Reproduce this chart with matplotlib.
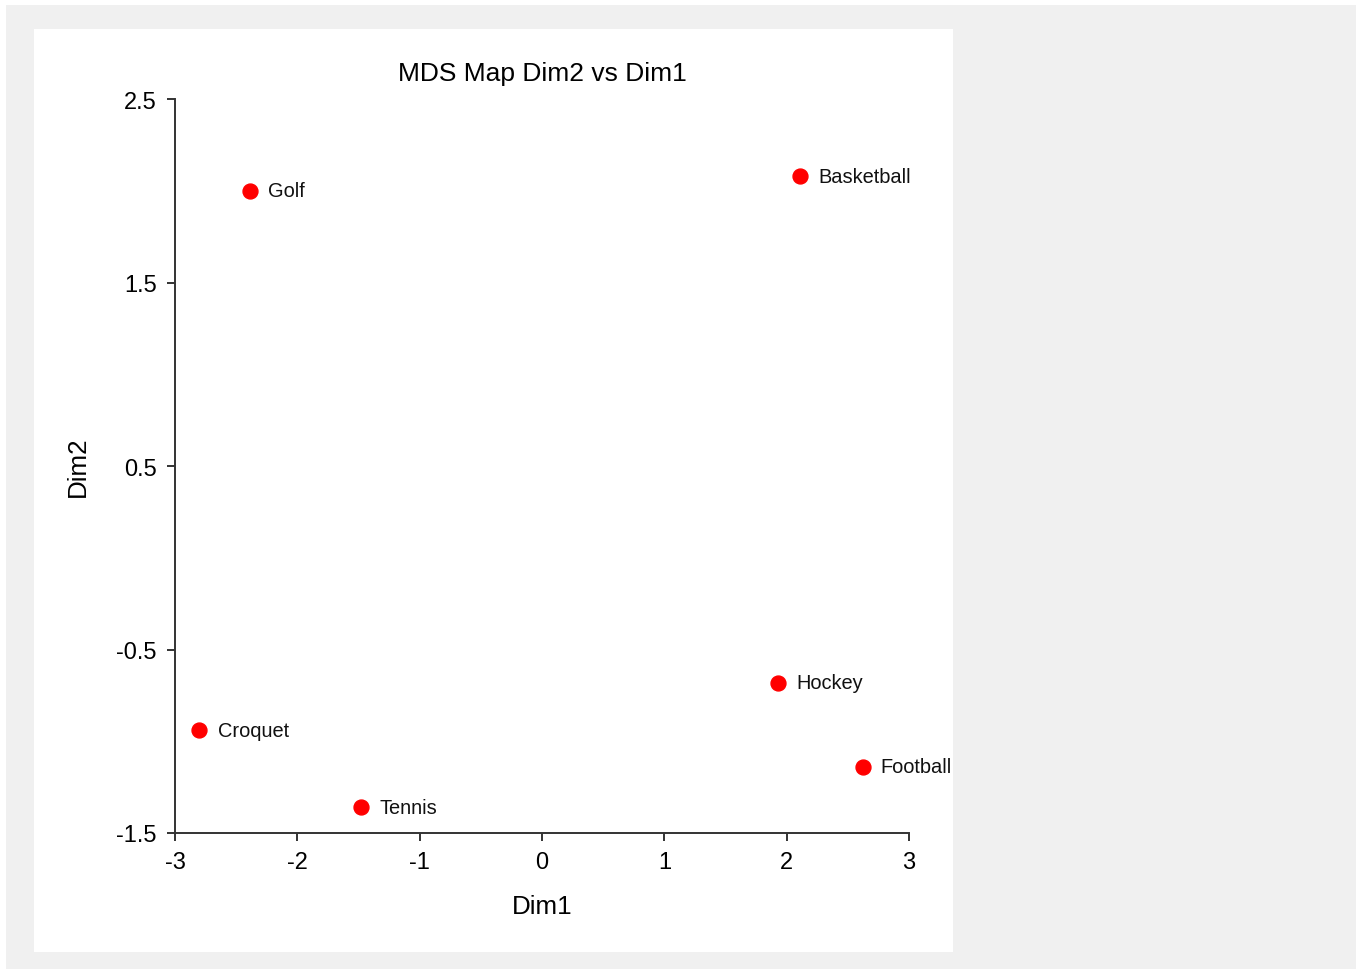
import matplotlib
matplotlib.use("Agg")
import matplotlib.pyplot as plt
from matplotlib.patches import Rectangle

## data
sports = ["Golf", "Basketball", "Hockey", "Croquet", "Tennis", "Football"]
dim1 = [-2.39, 2.11, 1.93, -2.80, -1.48, 2.62]
dim2 = [2.00, 2.08, -0.68, -0.94, -1.36, -1.14]

W, H = 1356, 970
fig = plt.figure(figsize=(W / 100, H / 100), dpi=100, facecolor="white")
plt.rcParams["font.family"] = ["Liberation Sans", "DejaVu Sans"]

## gray frame and white panel behind the chart
fig.patches.append(Rectangle((6 / W, 0), 1 - 6 / W, 1 - 6 / H, transform=fig.transFigure,
                             facecolor="#f0f0f0", edgecolor="none", zorder=-2))
fig.patches.append(Rectangle((34 / W, 1 - 953 / H), (953 - 34) / W, (953 - 30) / H,
                             transform=fig.transFigure, facecolor="white",
                             edgecolor="none", zorder=-1))

ax = fig.add_axes([175 / W, 1 - 834 / H, 734 / W, 734 / H])
ax.set_facecolor("none")
ax.scatter(dim1, dim2, s=115, color="#ff0000", zorder=3, clip_on=False)
for name, x, y in zip(sports, dim1, dim2):
    ax.annotate(name, (x, y), xytext=(13, 0), textcoords="offset points",
                va="center", ha="left", fontsize=14.4, color="#111111")

ax.set_xlim(-3, 3)
ax.set_ylim(-1.5, 2.5)
ax.set_xticks(range(-3, 4))
ax.set_yticks([-1.5, -0.5, 0.5, 1.5, 2.5])
ax.set_yticklabels(["-1.5", "-0.5", "0.5", "1.5", "2.5"])
ax.set_xticklabels([str(v) for v in range(-3, 4)])

for side in ["top", "right"]:
    ax.spines[side].set_visible(False)
for side in ["left", "bottom"]:
    ax.spines[side].set_linewidth(1.4)
    ax.spines[side].set_color("#333333")
ax.tick_params(direction="out", length=6, width=1.4, color="#333333",
               labelsize=17, pad=7)

ax.set_title("MDS Map Dim2 vs Dim1", fontsize=19, pad=14)
ax.set_xlabel("Dim1", fontsize=18.7, labelpad=15)
ax.set_ylabel("Dim2", fontsize=18.7, labelpad=19)

fig.savefig("out.png", dpi=100, facecolor=fig.get_facecolor())
